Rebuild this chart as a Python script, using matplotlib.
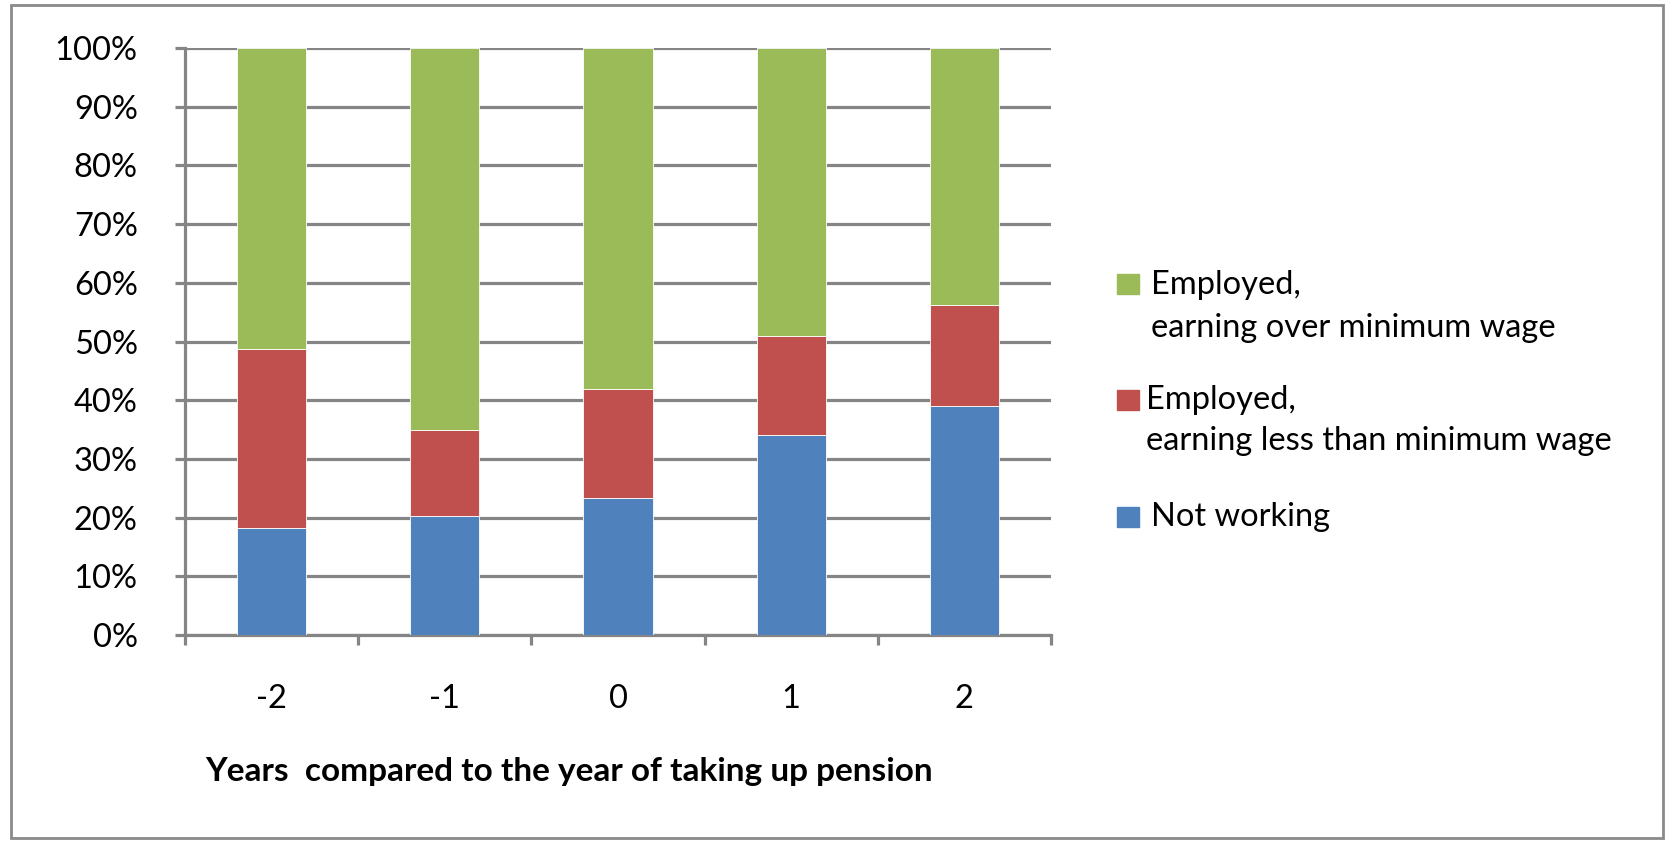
import matplotlib.pyplot as plt
import matplotlib.patches as patches
import numpy as np

plt.rcParams['font.family'] = ['Lato', 'DejaVu Sans']

# data (percent of people)
years = ['-2', '-1', '0', '1', '2']
not_working = [18.3, 20.2, 23.3, 34.1, 39.0]
below_min_wage = [30.5, 14.8, 18.6, 16.8, 17.3]
over_min_wage = [51.2, 65.0, 58.1, 49.1, 43.7]

series = [not_working, below_min_wage, over_min_wage]
series_labels = ['Not working',
                 'Employed,\nearning less than minimum wage',
                 'Employed,\nearning over minimum wage']
series_colors = ['#4F81BD', '#C0504D', '#9BBB59']
y_ticks = list(range(0, 101, 10))
x_title = 'Years  compared to the year of taking up pension'

W, H = 1669, 842
fig = plt.figure(figsize=(W / 100, H / 100), dpi=100)

def fx(px):
    return px / W

def fy(py):
    return 1 - py / H

ax = fig.add_axes([fx(185), fy(635), fx(1051) - fx(185), fy(48) - fy(635)])

grey = '#858585'
x = np.arange(len(years))
bottom = np.zeros(len(years))
for vals, col in zip(series, series_colors):
    ax.bar(x, vals, width=0.4, bottom=bottom, color=col,
           edgecolor='white', linewidth=0.6, zorder=3)
    bottom += np.array(vals)

ax.set_xlim(-0.5, len(years) - 0.5)
ax.set_ylim(0, 100)
ax.set_yticks(y_ticks)
ax.set_yticklabels([f'{t}%' for t in y_ticks])
ax.yaxis.grid(True, color=grey, linewidth=2.3)
ax.set_axisbelow(True)

ax.set_xticks(x)
ax.set_xticklabels(years)
ax.set_xticks(np.arange(-0.5, len(years)), minor=True)
ax.tick_params(axis='x', which='major', length=0, pad=35, labelsize=23.5)
ax.tick_params(axis='x', which='minor', length=7, width=2.3, color=grey, direction='out')
ax.tick_params(axis='y', length=7, width=2.3, color=grey, pad=27, labelsize=23.5)

for side in ['top', 'right']:
    ax.spines[side].set_visible(False)
for side in ['left', 'bottom']:
    ax.spines[side].set_color(grey)
    ax.spines[side].set_linewidth(2.3)

fig.text(fx(205), fy(772), x_title, fontsize=24, fontweight='bold', va='center')

# legend, top entry first
legend_rows = [(2, 284, [285, 328], 1151),
               (1, 400, [400, 441], 1146),
               (0, 517, [517], 1151)]
for idx, patch_y, line_ys, text_x in legend_rows:
    fig.patches.append(patches.Rectangle((fx(1117), fy(patch_y + 10)), fx(22), fy(patch_y - 10) - fy(patch_y + 10),
                                         transform=fig.transFigure, color=series_colors[idx]))
    for line, ly in zip(series_labels[idx].split('\n'), line_ys):
        fig.text(fx(text_x), fy(ly), line, fontsize=23.5, va='center')

# outer frame
fig.patches.append(patches.Rectangle((fx(11), fy(838)), fx(1663) - fx(11), fy(5) - fy(838),
                                     transform=fig.transFigure, fill=False, edgecolor='#8a8a8a', linewidth=2))

fig.savefig('out.png', dpi=100)
